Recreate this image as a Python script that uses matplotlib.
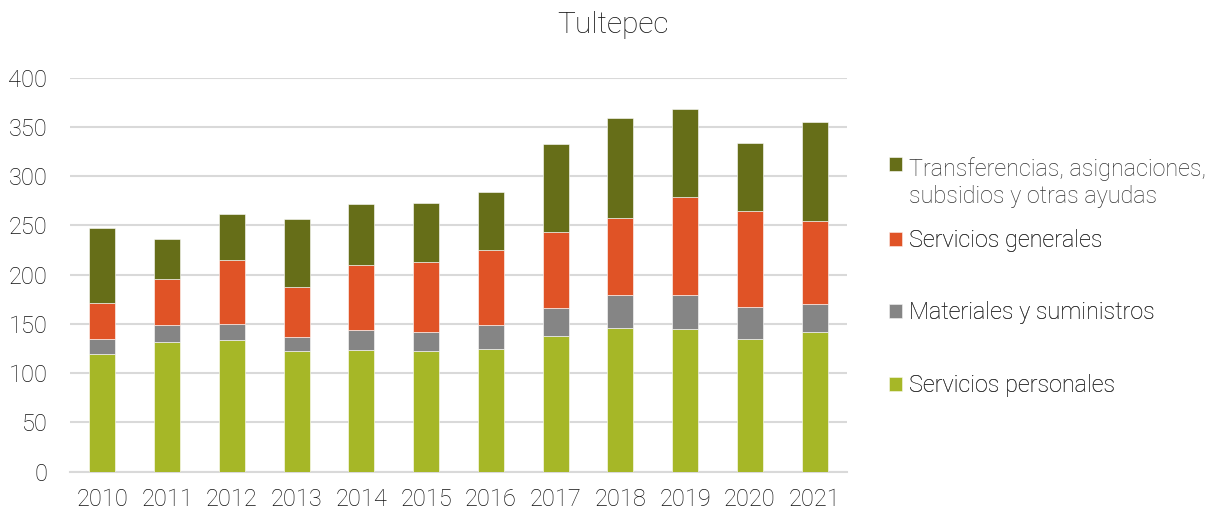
import matplotlib.pyplot as plt
import numpy as np
from matplotlib import font_manager

years = ['2010', '2011', '2012', '2013', '2014', '2015',
         '2016', '2017', '2018', '2019', '2020', '2021']
servicios_personales = [119.2, 131.7, 134.0, 122.8, 123.6, 122.2,
                        124.9, 137.5, 145.6, 144.9, 134.4, 141.5]
materiales = [15.2, 16.9, 16.3, 13.6, 19.9, 19.9,
              24.4, 28.7, 33.5, 34.2, 32.5, 28.8]
servicios_generales = [36.6, 46.7, 64.3, 51.4, 66.0, 71.1,
                       75.8, 77.2, 78.2, 99.8, 97.5, 83.9]
transferencias = [76.0, 40.7, 47.4, 68.4, 62.6, 59.9,
                  58.9, 89.6, 101.8, 89.3, 69.6, 100.5]

labels = ['Servicios personales', 'Materiales y suministros',
          'Servicios generales',
          'Transferencias, asignaciones,\nsubsidios y otras ayudas']
colors = ['#A6B727', '#858585', '#E05326', '#666E18']

names = {f.name for f in font_manager.fontManager.ttflist}
fam = 'Roboto' if 'Roboto' in names else 'DejaVu Sans'
plt.rcParams['font.family'] = [fam, 'DejaVu Sans']
W, H = 1221, 513

fig = plt.figure(figsize=(W / 100, H / 100), dpi=100)
ax = fig.add_axes([70 / W, 1 - 471.7 / H, 777 / W, 394 / H])

x = np.arange(len(years))
bottom = np.zeros(len(years))
bars = []
for vals, lab, col in zip([servicios_personales, materiales, servicios_generales, transferencias],
                          labels, colors):
    b = ax.bar(x, vals, 0.4, bottom=bottom, color=col, label=lab,
               edgecolor='#ffffff', linewidth=0.4, zorder=3)
    bars.append(b)
    bottom += np.array(vals)

ax.set_xlim(-0.5, len(years) - 0.5)
ax.set_ylim(0, 400)
ax.set_yticks(range(0, 401, 50))
ax.set_xticks(x)
ax.set_xticklabels(years)
ax.yaxis.grid(True, color='#d9d9d9', linewidth=1.5, zorder=0)
ax.set_axisbelow(True)
for s in ['top', 'right', 'left']:
    ax.spines[s].set_visible(False)
ax.spines['bottom'].set_color('#d9d9d9')
ax.spines['bottom'].set_linewidth(1.5)
ax.tick_params(axis='both', length=0, labelsize=17, labelcolor='#111111')
ax.tick_params(axis='x', pad=11.5)
ax.tick_params(axis='y', pad=16.3)
for t in ax.get_xticklabels() + ax.get_yticklabels():
    t.set_fontweight('light')

# legend entries placed one by one, like the Excel layout
leg_y = [385.5, 313, 241]
for h, lab, yy in zip(bars[:3], labels[:3], leg_y):
    lg = fig.legend([h], [lab], loc='center left', bbox_to_anchor=(889 / W, 1 - yy / H),
                    frameon=False, handlelength=0.55, handleheight=0.55, borderpad=0,
                    borderaxespad=0, handletextpad=0.3,
                    prop={'weight': 'light', 'size': 16.8})
    lg.get_texts()[0].set_color('#333333')
    fig.add_artist(lg)

lg = fig.legend([bars[3]], [labels[3]], loc='upper left', bbox_to_anchor=(889 / W, 1 - 157 / H),
                frameon=False, handlelength=0.55, handleheight=0.55, borderpad=0,
                borderaxespad=0, handletextpad=0.3,
                prop={'weight': 'light', 'size': 16.8})
lg.get_texts()[0].set_color('#333333')
lg.get_texts()[0].set_linespacing(1.25)
for col in lg._legend_handle_box.get_children():
    for hp in col.get_children():
        hp.align = 'top'

fig.text(612.5 / W, 1 - 33 / H, 'Tultepec', ha='center', va='baseline', fontsize=21.5,
         fontweight='light', color='#111111')

fig.savefig('out.png', dpi=100)
